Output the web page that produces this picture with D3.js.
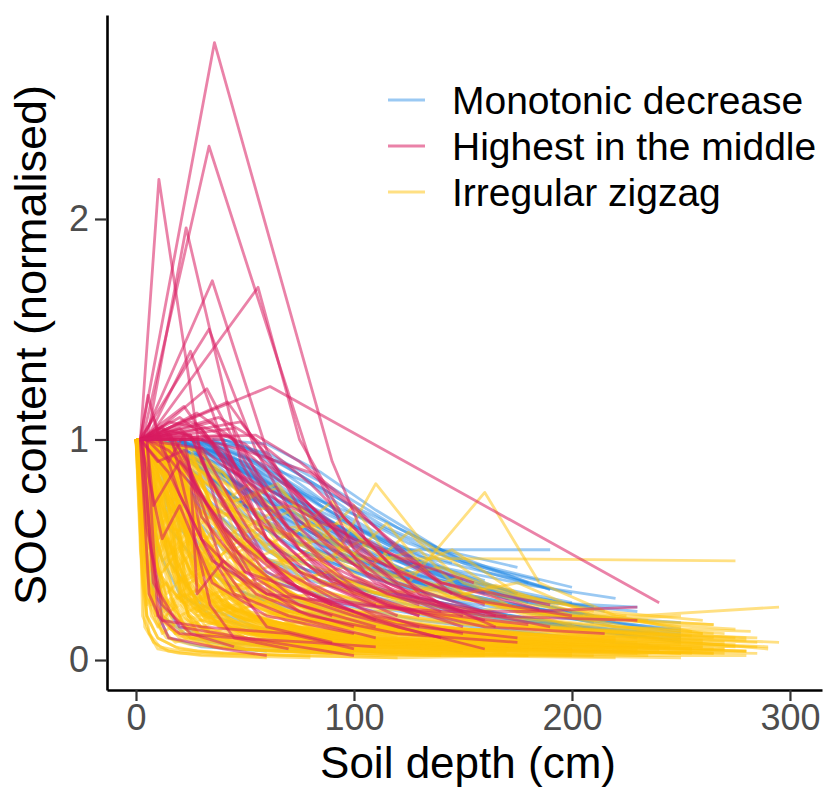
<!DOCTYPE html>
<html><head><meta charset="utf-8">
<script src="https://cdn.jsdelivr.net/npm/d3@7"></script>
<style>body{margin:0;background:#fff}svg{display:block}text{font-family:"Liberation Sans",Arial,sans-serif}</style>
</head><body><svg id="c" width="826" height="787"></svg>
<script>
const categories = ["Monotonic decrease","Highest in the middle","Irregular zigzag"];
const xTicks = [0,100,200,300];
const yTicks = [0,1,2];
// each profile: flat list depth,value,depth,value,...
const blueProfiles = [
[5,1,30,0.98,60,0.85,100,0.6,150,0.35,200,0.22],
[10,1,35,0.95,70,0.75,110,0.5,160,0.3],
[15,1,45,0.92,80,0.68,120,0.45,170,0.28,220,0.18],
[5,1,25,0.9,50,0.7,90,0.5,140,0.32,190,0.2],
[20,1,50,0.97,75,0.8,100,0.62,130,0.45],
[10,1,40,0.85,70,0.62,100,0.45,150,0.3,200,0.2,250,0.12],
[25,1,55,0.9,85,0.72,115,0.55,145,0.4,175,0.3],
[5,1,20,0.8,45,0.6,75,0.42,110,0.3,160,0.2],
[30,1,60,0.94,90,0.78,120,0.6,150,0.45,190,0.32],
[15,1,40,0.78,70,0.55,100,0.4,140,0.28,180,0.18,230,0.1],
[10,1,30,0.88,55,0.72,80,0.58,115,0.42],
[20,1,45,0.88,65,0.75,95,0.6,125,0.46,160,0.36],
[5,1,15,0.7,35,0.45,60,0.3,100,0.2,150,0.12],
[25,1,40,0.96,65,0.84,85,0.7,110,0.55,135,0.42,175,0.3],
[10,1,25,0.92,50,0.78,80,0.62,110,0.48,140,0.38,180,0.26],
[15,1,35,0.82,60,0.63,90,0.5,120,0.38,160,0.26,210,0.17],
[35,1,60,0.98,85,0.85,110,0.68,140,0.5,180,0.35],
[5,1,30,0.75,55,0.55,85,0.4,120,0.3,170,0.2,250,0.1],
[10,1,20,0.6,40,0.35,70,0.22,110,0.14,160,0.08],
[20,1,40,0.9,60,0.8,80,0.66,100,0.55,130,0.4,170,0.28,230,0.22],
[5,1,15,0.45,30,0.25,55,0.15,90,0.1,140,0.06],
[3,1,8,0.3,20,0.15,40,0.08,80,0.05],
[5,1,12,0.2,25,0.1,50,0.05,100,0.03],
[15,1,30,0.85,50,0.7,70,0.55,95,0.45,130,0.35,190,0.26,230,0.24],
[10,1,35,0.9,60,0.7,90,0.55,115,0.5,190,0.5],
[20,1,45,0.8,70,0.6,100,0.44,135,0.33,175,0.24,220,0.15,250,0.11],
[25,1,50,0.86,80,0.65,110,0.5,150,0.36,200,0.26],
[30,1,50,0.92,75,0.76,105,0.58,130,0.47,160,0.4,200,0.3],
[5,1,25,0.85,45,0.65,65,0.5,90,0.38,120,0.3,160,0.22,200,0.16],
[15,1,50,0.75,85,0.5,120,0.35,160,0.22,210,0.14,250,0.08],
[40,1,65,0.9,90,0.75,115,0.6,150,0.45,200,0.33],
[10,1,30,0.95,55,0.82,75,0.68,100,0.52,125,0.4],
[5,1,20,0.72,40,0.5,65,0.35,95,0.25,130,0.18,180,0.12,240,0.06],
[20,1,35,0.94,55,0.86,80,0.74,105,0.64,130,0.52,160,0.4,190,0.32],
[10,1,25,0.8,45,0.58,70,0.44,100,0.33,135,0.25,175,0.18,225,0.12],
[30,1,55,0.85,75,0.7,95,0.57,120,0.46,150,0.36],
[15,1,40,0.93,60,0.78,85,0.62,110,0.52,140,0.42,180,0.34,220,0.28],
[5,1,10,0.5,20,0.3,35,0.2,60,0.12,100,0.07,150,0.04],
[20,1,30,0.7,50,0.5,80,0.36,120,0.26,170,0.18,240,0.12],
[25,1,45,0.9,70,0.74,90,0.65,120,0.52,145,0.44],
[10,1,45,0.68,75,0.5,105,0.38,145,0.27,195,0.19,250,0.14],
[5,1,20,0.95,40,0.84,60,0.72,80,0.6,100,0.48,125,0.4,155,0.32],
[35,1,55,0.9,80,0.8,100,0.66,125,0.53,150,0.44,185,0.36],
[15,1,30,0.65,50,0.45,75,0.32,110,0.24,150,0.17,200,0.1],
[10,1,40,0.88,70,0.68,95,0.56,125,0.44,165,0.32,215,0.22],
[5,1,35,0.8,65,0.58,95,0.45,130,0.34,170,0.25,220,0.19,250,0.17],
[20,1,50,0.82,80,0.58,110,0.42,140,0.32,180,0.22],
[30,1,45,0.88,65,0.72,90,0.56,115,0.44,140,0.35,170,0.28,210,0.2],
[10,1,15,0.6,30,0.42,50,0.3,75,0.22,110,0.16,160,0.1],
[5,1,8,0.25,15,0.1,30,0.06,60,0.04],
[15,1,60,0.72,100,0.48,150,0.3,200,0.2,250,0.13],
[25,1,35,0.8,50,0.66,70,0.52,95,0.42,125,0.34,165,0.26,205,0.2],
[40,1,55,0.95,75,0.84,95,0.72,120,0.6,140,0.5,175,0.42],
[10,1,30,0.68,55,0.48,85,0.36,120,0.28,160,0.2,200,0.14,250,0.09],
[20,1,40,0.84,65,0.66,95,0.5,130,0.38,170,0.3,210,0.24],
[5,1,50,0.9,85,0.66,110,0.5,135,0.4]
];
const redProfiles = [
[2,1,36,2.8,90,0.9,105,0.55,130,0.3,165,0.15],
[3,1,33.5,2.33,80,0.9,100,0.5,125,0.3,160,0.18],
[2,1,10.5,2.18,30,0.9,50,0.55,75,0.32,110,0.18],
[5,1,23,1.96,48,0.9,65,0.6,90,0.35,130,0.2],
[3,1,35,1.72,60,0.95,80,0.6,110,0.35,150,0.2],
[5,1,56,1.69,75,1.0,95,0.65,120,0.4,160,0.25],
[2,1,33.5,1.5,55,0.95,75,0.6,100,0.38,140,0.22],
[5,1,25,1.4,45,0.85,60,0.55,85,0.35,120,0.2],
[2,1,61.5,1.24,240,0.26],
[2,1,5.5,1.2,12,0.95,25,0.8,45,0.55,70,0.35,100,0.22],
[3,1,42,1.17,65,0.85,90,0.55,115,0.35,150,0.22],
[5,1,32.5,1.23,50,0.9,70,0.6,95,0.38,130,0.25],
[2,1,20,1.1,40,0.95,60,0.7,85,0.45,115,0.3,160,0.2,230,0.18],
[3,1,15,1.08,30,1.05,50,0.8,75,0.5,105,0.3,150,0.15],
[5,1,28,1.12,45,1.0,65,0.72,90,0.5,120,0.3,170,0.2],
[2,1,10,1.05,25,1.02,40,0.7,60,0.45,90,0.28,130,0.15],
[3,1,38,1.1,55,1.0,80,0.8,105,0.55,140,0.35,190,0.25],
[2,1,22,1.15,40,0.9,55,0.6,75,0.4,110,0.25],
[5,1,30,1.0,50,0.95,80,0.85,110,0.6,140,0.35,185,0.23],
[2,1,12,1.06,30,0.75,45,0.5,70,0.3,100,0.2,140,0.1],
[3,1,45,1.05,60,0.75,75,0.5,100,0.3,130,0.2],
[2,1,18,1.0,35,0.65,50,0.4,75,0.25,110,0.15],
[5,1,8,0.7,20,0.9,40,0.6,60,0.4,90,0.25],
[2,1,6,0.3,15,0.1,40,0.05,60,0.02],
[3,1,8,0.35,20,0.15,50,0.1,100,0.02],
[2,1,5,0.6,12,0.25,25,0.12,45,0.06],
[5,1,15,0.95,25,0.85,28,0.3,40,0.45,60,0.3,90,0.2],
[2,1,30,1.05,45,0.85,60,0.75,90,0.6,110,0.45,150,0.28,200,0.2],
[3,1,25,1.08,50,0.98,70,0.8,95,0.55,120,0.35,165,0.2],
[2,1,15,0.85,30,0.55,55,0.3,80,0.2,120,0.12,175,0.08],
[5,1,40,1.0,60,0.55,80,0.35,110,0.2,150,0.12],
[2,1,28,1.0,40,0.6,55,0.35,75,0.22,100,0.15],
[3,1,20,1.03,35,0.98,55,0.65,80,0.42,115,0.25,160,0.15,215,0.12],
[2,1,8,1.1,20,0.75,35,0.45,60,0.3,100,0.25,140,0.22,180,0.22,230,0.24],
[5,1,15,0.9,22,1.02,30,0.55,45,0.3,70,0.2,110,0.1],
[2,1,12,0.55,20,0.7,35,0.35,60,0.2,100,0.12],
[3,1,48,1.08,70,0.8,90,0.6,105,0.4,130,0.28],
[2,1,25,1.02,35,0.8,50,0.55,70,0.35,90,0.25,120,0.15,160,0.05],
[5,1,10,0.2,20,0.12,45,0.1,80,0.08,110,0.06],
[2,1,30,0.96,45,0.7,60,0.45,80,0.28,120,0.16,175,0.1],
[3,1,55,1.02,75,0.9,100,0.7,120,0.5,145,0.3],
[2,1,14,1.04,24,0.9,30,0.65,50,0.4,85,0.28,130,0.22,180,0.16],
[2,1,35,1.08,50,0.8,65,0.55,85,0.38,110,0.28],
[3,1,7,0.5,12,0.18,30,0.15,70,0.12,100,0.05],
[5,1,20,1.05,40,0.88,75,0.7,100,0.55,125,0.45,155,0.35],
[2,1,10,0.9,22,0.95,40,0.42,60,0.15,90,0.08],
[3,1,42,1.02,60,0.86,85,0.66,110,0.46,140,0.25,190,0.15],
[2,1,16,1.02,26,0.6,34,0.25,45,0.1,70,0.05]
];
const yellowProfiles = [
[0,1,2,0.5,5,0.2,10,0.1,20,0.05,40,0.03,80,0.02],
[0,1,3,0.75,6,0.35,12,0.2,25,0.1,50,0.06,100,0.03],
[1,1,5,0.85,10,0.6,18,0.4,30,0.25,50,0.15,90,0.08,150,0.04],
[0,1,8,0.9,15,0.7,22,0.5,35,0.35,55,0.2,85,0.12,130,0.07],
[2,1,10,0.95,20,0.8,30,0.55,45,0.35,70,0.22,110,0.14,170,0.08,230,0.05],
[0,1,4,0.3,10,0.15,18,0.25,30,0.1,60,0.08,100,0.04],
[1,1,6,0.6,12,0.75,20,0.35,35,0.42,55,0.18,90,0.1,140,0.06],
[0,1,15,0.95,25,0.65,35,0.5,50,0.28,80,0.18,120,0.1,200,0.06],
[2,1,7,0.45,14,0.55,24,0.2,40,0.15,70,0.08,120,0.04,180,0.02],
[0,1,12,0.85,18,0.9,28,0.6,40,0.45,60,0.3,90,0.2,130,0.12,190,0.08],
[1,1,3,0.2,8,0.08,15,0.04,30,0.02,60,0.01],
[0,1,5,0.7,9,0.8,15,0.45,25,0.3,45,0.2,75,0.12,115,0.07],
[3,1,10,0.5,16,0.65,25,0.4,40,0.25,65,0.15,100,0.1,160,0.05],
[0,1,20,0.98,30,0.75,40,0.55,55,0.4,75,0.28,110,0.18,160,0.12,220,0.08],
[1,1,4,0.55,8,0.3,14,0.35,22,0.15,40,0.1,70,0.06,120,0.03],
[0,1,6,0.95,14,0.8,20,0.62,30,0.48,45,0.3,70,0.22,105,0.15,150,0.1,210,0.07],
[2,1,12,0.4,20,0.5,35,0.22,55,0.28,85,0.12,130,0.08,200,0.04],
[0,1,9,0.65,17,0.4,27,0.5,40,0.25,60,0.18,95,0.1,150,0.06,250,0.03],
[1,1,25,0.9,35,0.7,50,0.6,70,0.42,95,0.32,130,0.22,175,0.15,240,0.1],
[0,1,3,0.9,7,0.55,12,0.3,20,0.2,35,0.12,60,0.08,110,0.05,170,0.03],
[2,1,15,0.8,25,0.55,32,0.7,45,0.45,65,0.35,85,0.22,120,0.15,165,0.1],
[0,1,10,0.3,20,0.2,30,0.25,50,0.1,80,0.07,130,0.04,200,0.03],
[1,1,18,0.85,28,0.5,38,0.62,52,0.35,75,0.25,105,0.2,145,0.12,200,0.08,260,0.06],
[0,1,5,0.4,12,0.6,20,0.28,30,0.18,50,0.12,85,0.08,140,0.05],
[3,1,22,0.95,35,0.8,48,0.65,60,0.5,80,0.38,100,0.3,130,0.22,170,0.16,230,0.12,275,0.1],
[0,1,8,0.5,15,0.25,25,0.35,38,0.15,60,0.12,100,0.08,160,0.05,230,0.04],
[1,1,14,0.7,24,0.78,34,0.4,48,0.3,70,0.2,100,0.14,150,0.09,210,0.06],
[0,1,4,0.8,9,0.45,15,0.55,22,0.3,35,0.2,55,0.15,90,0.1,140,0.07,200,0.05],
[2,1,30,0.88,42,0.68,55,0.5,70,0.38,90,0.3,115,0.25,150,0.18,200,0.12,260,0.09],
[0,1,11,0.6,20,0.45,28,0.22,40,0.3,60,0.16,90,0.1,140,0.06,210,0.04,285,0.03],
[1,1,6,0.35,12,0.12,20,0.18,35,0.06,60,0.04,110,0.02,180,0.02],
[0,1,16,0.92,26,0.72,36,0.56,50,0.42,68,0.3,90,0.2,125,0.14,180,0.1,250,0.07],
[2,1,8,0.75,14,0.5,22,0.62,32,0.28,50,0.2,80,0.14,130,0.1,200,0.06],
[0,1,7,0.2,14,0.1,25,0.07,45,0.05,90,0.03,150,0.02,220,0.01],
[1,1,20,0.7,30,0.4,42,0.5,58,0.25,80,0.2,115,0.12,170,0.08,240,0.05],
[0,1,13,0.98,22,0.82,32,0.62,44,0.46,60,0.34,82,0.26,110,0.2,150,0.16,200,0.14,260,0.12],
[2,1,5,0.6,11,0.38,18,0.48,26,0.24,40,0.16,65,0.1,110,0.06,170,0.04],
[0,1,25,0.8,40,0.65,55,0.75,70,0.55,90,0.45,110,0.8,130,0.55,160,0.35,200,0.2,250,0.1],
[3,1,30,0.7,60,0.6,95,0.5,125,0.35,160,0.76,185,0.35,220,0.2,260,0.12],
[0,1,10,0.7,25,0.9,45,0.72,65,0.8,85,0.55,100,0.7,120,0.4,150,0.3,190,0.2],
[1,1,20,0.75,40,0.6,60,0.45,100,0.46,150,0.46,275,0.45],
[0,1,15,0.6,35,0.55,55,0.4,80,0.5,100,0.3,140,0.32,180,0.2,230,0.2,295,0.24],
[2,1,18,0.65,30,0.85,50,0.6,68,0.7,85,0.45,105,0.55,130,0.3,170,0.25,220,0.15,282,0.13],
[0,1,12,0.45,24,0.55,40,0.3,60,0.35,90,0.2,130,0.24,170,0.12,230,0.1,290,0.05],
[1,1,22,0.88,38,0.7,52,0.8,70,0.6,95,0.62,120,0.4,145,0.5,175,0.3,210,0.22],
[0,1,9,0.55,18,0.35,30,0.42,50,0.22,80,0.18,120,0.14,170,0.08,230,0.06,280,0.04],
[2,1,28,0.95,40,0.85,58,0.62,72,0.68,95,0.45,118,0.38,140,0.42,170,0.3,215,0.22,260,0.18],
[0,1,6,0.85,13,0.65,20,0.72,28,0.45,40,0.32,60,0.22,95,0.16,150,0.11,215,0.08],
[1,1,16,0.5,26,0.3,38,0.2,55,0.25,80,0.12,120,0.08,190,0.05,265,0.03],
[0,1,4,0.15,10,0.05,20,0.03,40,0.02,80,0.01],
[2,1,9,0.25,18,0.12,28,0.16,45,0.08,75,0.05,130,0.03,210,0.02],
[0,1,14,0.55,24,0.25,36,0.3,55,0.14,90,0.1,140,0.07,200,0.04,270,0.03],
[1,1,11,0.8,19,0.58,29,0.38,42,0.45,60,0.28,85,0.22,120,0.16,170,0.13,230,0.1,285,0.08],
[0,1,7,0.6,13,0.22,22,0.3,34,0.12,55,0.09,95,0.06,160,0.04],
[2,1,24,0.75,36,0.45,48,0.55,62,0.3,82,0.22,110,0.15,150,0.1,205,0.07,255,0.05],
[0,1,5,0.5,10,0.62,17,0.3,28,0.2,45,0.24,70,0.12,110,0.09,170,0.06],
[1,1,19,0.9,29,0.6,39,0.42,52,0.33,68,0.4,88,0.25,115,0.18,160,0.12,220,0.09],
[0,1,3,0.6,7,0.25,12,0.35,18,0.12,30,0.08,50,0.05,90,0.03],
[2,1,13,0.88,21,0.68,31,0.5,41,0.36,54,0.26,72,0.18,100,0.13,140,0.1,190,0.07,245,0.05],
[0,1,17,0.78,27,0.42,37,0.48,49,0.22,66,0.16,92,0.12,135,0.08,195,0.06,270,0.05],
[1,1,8,0.4,16,0.2,26,0.14,40,0.18,62,0.08,100,0.05,155,0.03,235,0.02],
[0,1,10,0.92,20,0.7,26,0.52,36,0.38,48,0.4,64,0.24,86,0.18,118,0.12,165,0.08,225,0.06],
[2,1,6,0.7,12,0.45,19,0.28,29,0.32,43,0.18,66,0.12,105,0.08,165,0.05,240,0.04],
[0,1,21,0.82,33,0.58,44,0.38,58,0.3,76,0.22,102,0.17,138,0.13,185,0.1,245,0.08,290,0.06],
[1,1,4,0.45,9,0.2,16,0.28,25,0.1,42,0.07,75,0.05,130,0.03],
[0,1,12,0.7,22,0.5,30,0.6,42,0.36,58,0.26,80,0.3,108,0.18,150,0.14,205,0.1,270,0.07],
[2,1,16,0.62,24,0.42,34,0.26,46,0.2,64,0.14,90,0.1,130,0.06,180,0.04,250,0.03],
[0,1,8,0.85,16,0.48,26,0.55,38,0.32,52,0.2,74,0.15,110,0.1,160,0.07,225,0.05],
[1,1,26,0.92,36,0.66,46,0.5,60,0.38,78,0.32,98,0.36,125,0.24,165,0.18,215,0.14,265,0.12],
[0,1,6,0.4,11,0.5,18,0.2,27,0.1,40,0.14,62,0.06,100,0.04,160,0.03],
[2,1,10,0.55,20,0.65,28,0.35,38,0.24,55,0.16,82,0.1,125,0.07,185,0.05],
[0,1,14,0.82,22,0.6,32,0.45,44,0.28,60,0.22,84,0.14,120,0.1,175,0.07,240,0.05,280,0.04],
[1,1,5,0.3,11,0.15,18,0.08,30,0.12,50,0.05,85,0.03,140,0.02],
[0,1,18,0.95,26,0.8,34,0.6,45,0.5,58,0.58,72,0.36,92,0.28,122,0.2,165,0.15,220,0.1],
[2,1,7,0.5,14,0.3,22,0.38,32,0.18,48,0.13,72,0.09,110,0.06,165,0.04,230,0.03],
[0,1,9,0.78,17,0.56,25,0.4,35,0.3,50,0.34,70,0.2,100,0.15,145,0.1,205,0.07,265,0.05],
[1,1,13,0.6,23,0.34,33,0.4,46,0.2,66,0.15,96,0.1,140,0.07,200,0.05],
[0,1,3,0.35,6,0.12,11,0.06,20,0.04,36,0.03,70,0.02,120,0.01],
[2,1,22,0.68,32,0.5,42,0.32,54,0.36,70,0.2,95,0.15,130,0.11,180,0.08,245,0.06],
[0,1,11,0.9,19,0.75,27,0.65,37,0.48,49,0.36,64,0.28,86,0.2,116,0.14,160,0.1,215,0.08,275,0.06],
[1,1,7,0.85,12,0.62,19,0.7,27,0.4,38,0.28,54,0.2,80,0.13,120,0.09,175,0.06],
[0,1,15,0.48,25,0.6,35,0.3,50,0.18,72,0.2,100,0.1,145,0.07,210,0.05,280,0.04],
[2,1,4,0.7,8,0.4,13,0.2,20,0.25,30,0.1,48,0.07,80,0.05,130,0.03,200,0.02],
[0,1,24,0.85,34,0.7,44,0.52,56,0.4,72,0.3,92,0.24,120,0.2,155,0.16,200,0.13,255,0.11],
[1,1,10,0.42,18,0.25,28,0.32,40,0.16,58,0.11,88,0.08,135,0.05,200,0.04,265,0.03],
[0,1,6,0.92,12,0.72,18,0.5,26,0.36,36,0.26,50,0.3,70,0.17,100,0.12,145,0.08,200,0.06],
[2,1,17,0.7,27,0.48,37,0.34,50,0.24,68,0.28,92,0.16,128,0.12,175,0.09,235,0.07],
[0,1,5,0.25,10,0.35,16,0.14,24,0.09,38,0.06,60,0.04,100,0.03,160,0.02],
[1,1,28,0.8,38,0.58,50,0.44,64,0.5,80,0.32,104,0.26,136,0.2,180,0.15,235,0.12,285,0.1],
[0,1,12,0.52,21,0.3,31,0.2,43,0.24,61,0.12,90,0.08,135,0.06,195,0.04,255,0.03],
[5,1,40,0.7,70,0.55,90,0.72,110,0.45,130,0.5,150,0.3,175,0.35,210,0.2,250,0.15],
[2,1,35,0.78,60,0.52,80,0.62,105,0.4,125,0.58,150,0.35,180,0.25,225,0.2],
[0,1,30,0.82,50,0.68,75,0.7,95,0.5,120,0.42,145,0.28,165,0.34,200,0.22,240,0.16,275,0.14],
[3,1,45,0.72,65,0.78,85,0.6,100,0.48,115,0.62,135,0.38,160,0.26,195,0.2,235,0.18],
[1,1,20,0.85,40,0.58,62,0.42,80,0.48,100,0.34,125,0.3,150,0.38,175,0.22,210,0.18,250,0.2],
[0,1,35,0.62,55,0.48,75,0.36,95,0.42,118,0.28,142,0.2,170,0.24,205,0.14,245,0.1,295,0.08],
[0,1,10,0.98,16,0.7,20,0.3,28,0.12,45,0.08,80,0.05,140,0.03],
[1,1,12,0.92,18,0.85,22,0.4,30,0.2,50,0.1,90,0.06],
[0,1,8,0.95,14,0.9,19,0.55,24,0.2,35,0.1,60,0.06,110,0.04],
[2,1,15,0.97,20,0.75,25,0.45,32,0.2,48,0.14,75,0.1,120,0.06,180,0.04],
[0,1,5,0.9,11,0.96,17,0.6,21,0.25,30,0.15,55,0.09,100,0.05],
[1,1,18,1.0,22,0.8,26,0.5,33,0.3,45,0.2,65,0.14,100,0.1,150,0.07],
[0,1,9,0.8,13,0.95,18,0.65,23,0.35,30,0.22,42,0.15,70,0.1,110,0.07],
[2,1,6,0.88,12,0.78,16,0.92,21,0.5,28,0.3,40,0.18,62,0.12,100,0.08,160,0.05],
[0,1,14,0.98,19,0.88,24,0.62,30,0.4,40,0.26,55,0.18,80,0.12,120,0.08,170,0.05],
[1,1,7,0.7,13,0.82,19,0.45,25,0.28,34,0.18,50,0.12,80,0.08],
[0,1,11,0.9,17,0.95,23,0.7,28,0.48,36,0.3,50,0.2,72,0.15,105,0.1,155,0.07,215,0.05],
[2,1,4,0.95,9,0.85,15,0.75,20,0.6,26,0.38,34,0.25,48,0.16,70,0.1,110,0.06],
[0,1,16,0.9,21,0.92,26,0.55,31,0.32,40,0.2,58,0.14,90,0.09,140,0.06,200,0.04],
[1,1,3,0.8,6,0.9,10,0.7,14,0.8,18,0.4,24,0.2,34,0.12,55,0.08,95,0.05],
[0,1,12,1.0,17,0.82,21,0.68,25,0.52,30,0.36,38,0.24,52,0.16,78,0.11,120,0.08,180,0.06],
[2,1,8,0.98,13,0.62,17,0.78,22,0.42,28,0.26,38,0.16,56,0.1,90,0.07,150,0.05],
[0,1,20,0.95,25,0.7,30,0.5,36,0.34,44,0.24,58,0.18,80,0.14,115,0.1,165,0.07,230,0.05],
[1,1,10,0.85,15,0.68,20,0.78,24,0.5,29,0.3,37,0.2,50,0.14,75,0.1,115,0.07],
[0,1,6,0.98,10,0.9,14,0.62,18,0.44,23,0.3,31,0.2,45,0.14,70,0.1,110,0.06,170,0.04],
[2,1,17,0.96,22,0.86,27,0.64,33,0.46,42,0.32,55,0.24,75,0.18,105,0.13,150,0.1,210,0.07],
[0,1,22,0.9,30,0.8,38,0.62,46,0.5,56,0.38,68,0.3,85,0.24,110,0.18,150,0.13,210,0.1,270,0.08],
[1,1,25,0.96,33,0.74,40,0.55,48,0.6,58,0.4,70,0.3,90,0.22,120,0.17,160,0.12,220,0.09],
[0,1,18,0.92,28,0.88,36,0.66,44,0.7,52,0.45,64,0.34,80,0.26,105,0.2,140,0.15,190,0.11,250,0.09],
[2,1,30,0.95,38,0.82,46,0.64,54,0.5,64,0.42,78,0.34,98,0.28,125,0.22,165,0.17,220,0.13,280,0.1],
[0,1,26,0.86,34,0.6,42,0.46,52,0.52,62,0.32,76,0.26,96,0.19,125,0.14,170,0.1,230,0.08],
[1,1,20,0.78,30,0.62,40,0.7,50,0.48,60,0.36,74,0.38,92,0.24,120,0.18,160,0.13,215,0.09],
[0,1,32,0.9,42,0.75,52,0.62,62,0.54,75,0.44,90,0.4,110,0.3,135,0.26,170,0.2,220,0.15,270,0.12],
[2,1,24,0.7,34,0.52,44,0.38,55,0.42,66,0.26,82,0.2,105,0.15,140,0.11,185,0.08,245,0.06],
[0,1,28,0.92,40,0.78,50,0.58,60,0.6,72,0.42,86,0.34,102,0.36,125,0.25,160,0.18,210,0.13,265,0.1],
[1,1,36,0.88,48,0.7,60,0.55,72,0.48,86,0.38,104,0.32,128,0.26,160,0.2,205,0.16,255,0.13],
[0,1,15,0.74,24,0.58,34,0.44,46,0.34,60,0.38,74,0.22,94,0.17,122,0.13,165,0.1,225,0.07,285,0.06],
[2,1,40,0.85,55,0.66,68,0.58,82,0.5,98,0.42,115,0.36,138,0.3,170,0.24,215,0.19,265,0.16],
[0,1,20,0.65,30,0.48,40,0.55,52,0.3,66,0.24,84,0.18,110,0.13,150,0.1,200,0.07,260,0.06],
[1,1,45,0.78,60,0.62,75,0.52,90,0.56,108,0.4,128,0.34,150,0.28,180,0.22,220,0.18,265,0.16],
[0,1,30,0.74,45,0.58,58,0.46,72,0.36,88,0.4,108,0.26,135,0.2,170,0.15,220,0.11,280,0.09],
[0,1,4,0.5,9,0.22,16,0.14,26,0.1,40,0.12,60,0.07,90,0.05,130,0.06,180,0.03,240,0.02,280,0.02],
[1,1,6,0.3,12,0.18,20,0.1,32,0.15,50,0.08,80,0.1,120,0.05,170,0.04,230,0.03,270,0.05],
[0,1,8,0.35,15,0.22,24,0.16,36,0.2,54,0.12,78,0.15,110,0.08,150,0.1,200,0.06,255,0.05],
[2,1,10,0.4,18,0.3,28,0.22,42,0.25,60,0.16,86,0.18,120,0.12,160,0.14,210,0.09,260,0.08],
[0,1,12,0.36,22,0.26,34,0.3,48,0.18,68,0.22,95,0.14,130,0.16,175,0.1,225,0.08,275,0.07],
[1,1,5,0.2,10,0.1,18,0.06,28,0.04,45,0.03,75,0.02,120,0.01,180,0.02,250,0.01]
];

const groups = [
  {data: blueProfiles, color: "#1E88E5", op: 0.45},
  {data: yellowProfiles, color: "#FFC107", op: 0.5},
  {data: redProfiles, color: "#D81B60", op: 0.55}
];
const legendStyle = [["#1E88E5",0.45],["#D81B60",0.55],["#FFC107",0.5]];

const svg = d3.select("#c");
const x = d3.scaleLinear().domain([-13.3, 314.7]).range([107, 822]);
const y = d3.scaleLinear().domain([-0.136, 2.925]).range([690, 15]);
const toPairs = a => { const p=[]; for(let i=0;i<a.length;i+=2) p.push([a[i],a[i+1]]); return p; };
const line = d3.line().x(d=>x(d[0])).y(d=>y(d[1]));

const plot = svg.append("g");
groups.forEach(g => {
  plot.append("g").selectAll("path").data(g.data.map(toPairs)).join("path")
    .attr("d", line).attr("fill","none").attr("stroke", g.color)
    .attr("stroke-opacity", g.op).attr("stroke-width", 2.8).attr("stroke-linejoin","round");
});

const xAxis = svg.append("g").attr("transform","translate(0,690)")
  .call(d3.axisBottom(x).tickValues(xTicks).tickFormat(d3.format("d")).tickSize(11).tickSizeOuter(0).tickPadding(3));
const yAxis = svg.append("g").attr("transform","translate(107,0)")
  .call(d3.axisLeft(y).tickValues(yTicks).tickFormat(d3.format("d")).tickSize(12).tickSizeOuter(0).tickPadding(6));
[xAxis,yAxis].forEach(a=>{
  a.select(".domain").attr("stroke","#000").attr("stroke-width",2.6);
  a.selectAll(".tick line").attr("stroke","#333").attr("stroke-width",2.2);
  a.selectAll(".tick text").attr("fill","#4D4D4D").style("font-size","36px");
});

svg.append("text").attr("x",468).attr("y",778).attr("text-anchor","middle")
  .style("font-size","44px").attr("fill","#000").text("Soil depth (cm)");
svg.append("text").attr("transform","translate(46,345) rotate(-90)").attr("text-anchor","middle")
  .style("font-size","45px").attr("fill","#000").text("SOC content (normalised)");

const leg = svg.append("g");
const legY = [100,146,192];
categories.forEach((c,i)=>{
  leg.append("line").attr("x1",388).attr("x2",425).attr("y1",legY[i]).attr("y2",legY[i])
    .attr("stroke",legendStyle[i][0]).attr("stroke-opacity",legendStyle[i][1]).attr("stroke-width",2.8);
  leg.append("text").attr("x",452).attr("y",legY[i]).attr("dy","0.36em")
    .style("font-size","39px").attr("fill","#000").text(c);
});
</script></body></html>
